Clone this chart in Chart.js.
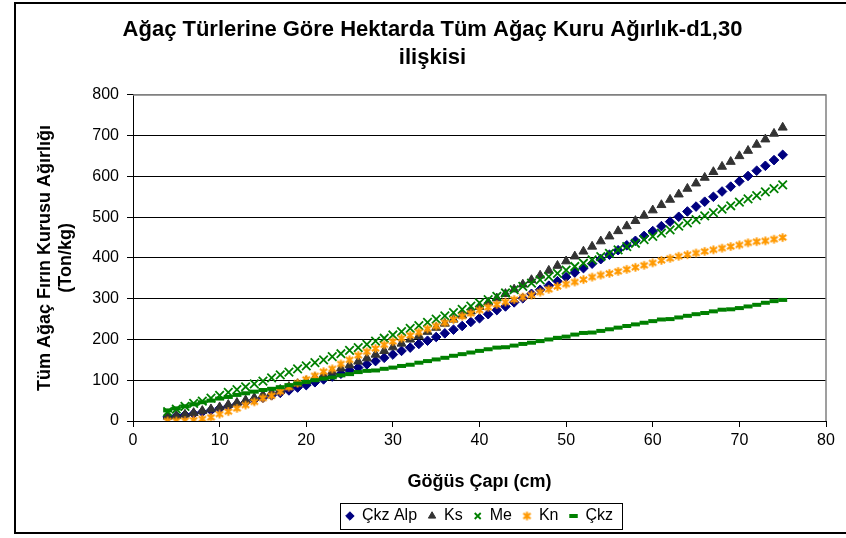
<!DOCTYPE html>
<html><head><meta charset="utf-8">
<script src="https://cdn.jsdelivr.net/npm/chart.js@4"></script>
<style>html,body{margin:0;padding:0;background:#fff;}canvas{display:block;}</style>
</head><body>
<canvas id="c" width="846" height="538"></canvas>
<script>
// Göğüs çapı (cm)
const dbh = [4,5,6,7,8,9,10,11,12,13,14,15,16,17,18,19,20,21,22,23,24,25,26,27,28,29,30,31,32,33,34,35,36,37,38,39,40,41,42,43,44,45,46,47,48,49,50,51,52,53,54,55,56,57,58,59,60,61,62,63,64,65,66,67,68,69,70,71,72,73,74,75];
const ckzAlp = [10,12,15,18,22,26,31,36,41,46,52,57,63,69,75,82,88,95,102,109,116,124,131,139,147,155,163,172,180,189,197,206,215,224,233,243,252,262,272,281,291,301,312,322,332,343,353,364,375,386,397,408,419,431,442,454,466,478,489,501,514,526,538,550,563,575,588,601,614,626,640,653];
const ks = [11,13,16,20,25,29,34,40,45,51,57,64,70,77,84,91,98,106,113,121,129,137,146,154,163,172,181,190,200,209,219,229,239,249,259,269,280,291,301,312,323,335,346,357,369,381,392,404,416,428,441,453,466,478,491,504,517,530,543,556,570,583,597,611,624,636,650,663,678,691,705,720];
const me = [23,29,36,43,49,56,63,70,77,84,91,98,106,113,120,128,135,143,150,158,165,173,180,188,196,203,211,219,227,234,242,250,258,266,274,282,290,298,306,314,322,330,338,346,354,362,370,379,387,395,403,411,420,428,436,445,453,461,469,478,486,494,503,511,520,528,537,545,553,562,570,579];
const kn = [0,0,1,2,5,9,17,23,31,39,47,56,62,72,83,93,102,111,121,128,140,150,161,170,178,187,195,203,210,218,226,233,241,249,257,264,272,279,286,292,298,304,309,316,323,330,336,341,347,353,358,362,367,372,377,382,388,394,399,404,408,412,416,420,424,428,432,437,440,442,446,450];
const ckz = [26,31,36,41,46,50,55,59,64,68,72,76,79,83,88,92,96,100,104,107,112,115,120,123,124,128,131,135,138,143,147,151,155,160,164,168,172,176,180,181,185,189,192,196,200,204,207,212,216,217,221,225,229,233,237,241,245,249,250,254,258,262,265,269,273,274,277,281,285,290,294,297];

const seriesNames = ['Çkz Alp','Ks','Me','Kn','Çkz'];
const titleLines = ['Ağaç Türlerine Göre Hektarda Tüm Ağaç Kuru Ağırlık-d1,30','ilişkisi'];
const xTitle = 'Göğüs Çapı (cm)';
const yTitleLines = ['Tüm Ağaç Fırın Kurusu Ağırlığı','(Ton/kg)'];
const xMin = 0, xMax = 80, xStep = 10;
const yMin = 0, yMax = 800, yStep = 100;

const FONT = "'Liberation Sans', Arial, sans-serif";
const pts = arr => dbh.map((x,i)=>({x:x, y:arr[i]}));

// Excel-style asterisk marker (x with a vertical bar)
function makeAsterisk(size, color){
  const c = document.createElement('canvas'); c.width = size; c.height = size;
  const g = c.getContext('2d'); const m = size/2, r = size/2 - 1.2;
  g.strokeStyle = color; g.lineWidth = 2; g.lineCap = 'butt';
  g.beginPath();
  g.moveTo(m - r*0.85, m - r*0.6); g.lineTo(m + r*0.85, m + r*0.6);
  g.moveTo(m - r*0.85, m + r*0.6); g.lineTo(m + r*0.85, m - r*0.6);
  g.moveTo(m, m - r); g.lineTo(m, m + r);
  g.stroke();
  return c;
}
const asterisk = makeAsterisk(11, '#FF9900');
const asteriskSmall = makeAsterisk(9, '#FF9900');

const helper = {
  id:'helper',
  beforeDraw(chart){
    const ctx = chart.ctx; ctx.save(); ctx.fillStyle='#fff'; ctx.fillRect(0,0,chart.width,chart.height); ctx.restore();
  },
  afterLayout(chart){
    const ca = chart.chartArea;
    if (chart.legend){ chart.legend.left = ca.left; chart.legend.right = ca.right; chart.legend.width = ca.right-ca.left; }
    if (chart.titleBlock){ chart.titleBlock.left = 19; chart.titleBlock.right = 846; chart.titleBlock.width = 827; }
  },
  beforeDatasetsDraw(chart){
    const {ctx, chartArea:ca} = chart;
    ctx.save(); ctx.strokeStyle='#808080'; ctx.lineWidth=1.5;
    ctx.beginPath(); ctx.moveTo(ca.left, ca.top); ctx.lineTo(ca.right, ca.top); ctx.lineTo(ca.right, ca.bottom); ctx.stroke();
    ctx.restore();
  },
  afterDraw(chart){
    const ctx = chart.ctx;
    const hb = chart.legend.legendHitBoxes;
    if (hb && hb.length){
      let l = Infinity, r = -Infinity, cy = 0;
      hb.forEach(b=>{ l=Math.min(l,b.left); r=Math.max(r,b.left+b.width); cy=b.top+b.height/2; });
      ctx.save(); ctx.strokeStyle='#000'; ctx.lineWidth=1;
      ctx.strokeRect(Math.round(l-6)+0.5, Math.round(cy-13)+0.5, Math.round(r-l+15), 26);
      ctx.restore();
    }
    ctx.save(); ctx.strokeStyle='#000'; ctx.lineWidth=2;
    ctx.strokeRect(15, 3, 840, 530);
    ctx.restore();
  }
};

new Chart(document.getElementById('c'), {
  type:'scatter',
  data:{ datasets:[
    {label:seriesNames[0], data:pts(ckzAlp), pointStyle:'rectRot', pointRadius:4.8, backgroundColor:'#000080', borderColor:'#000080', borderWidth:1, order:5},
    {label:seriesNames[1], data:pts(ks), pointStyle:'triangle', pointRadius:5.2, backgroundColor:'#333333', borderColor:'#333333', borderWidth:1, order:4},
    {label:seriesNames[2], data:pts(me), pointStyle:'crossRot', pointRadius:6, backgroundColor:'#008000', borderColor:'#008000', borderWidth:1.8, order:3},
    {label:seriesNames[3], data:pts(kn), pointStyle:asterisk, pointRadius:5, backgroundColor:'#FF9900', borderColor:'#FF9900', borderWidth:2, order:2},
    {label:seriesNames[4], data:pts(ckz), pointStyle:'line', pointRadius:4.5, backgroundColor:'#008000', borderColor:'#008000', borderWidth:4, order:1}
  ]},
  options:{
    responsive:false, animation:false, devicePixelRatio:1,
    layout:{padding:{left:14,right:20,top:4,bottom:4}},
    plugins:{
      tooltip:{enabled:false},
      title:{display:true, text:titleLines, color:'#000', font:{family:FONT,size:22,weight:'bold',lineHeight:1.27}, padding:{top:12,bottom:23}},
      legend:{position:'bottom', labels:{usePointStyle:true, boxWidth:8, boxHeight:6, padding:11, color:'#000', font:{family:FONT,size:16},
        sort:(a,b)=>a.datasetIndex-b.datasetIndex}}
    },
    scales:{
      x:{type:'linear', min:xMin, max:xMax,
        ticks:{stepSize:xStep, color:'#000', font:{family:FONT,size:16}, padding:4, maxRotation:0},
        grid:{display:true, drawOnChartArea:false, drawTicks:true, tickLength:6, tickColor:'#000'},
        border:{color:'#000', width:1},
        title:{display:true, text:xTitle, color:'#000', font:{family:FONT,size:18,weight:'bold',lineHeight:1.2}, padding:{top:0,bottom:4}},
        afterFit(s){ s.height = 76; }
      },
      y:{type:'linear', min:yMin, max:yMax,
        ticks:{stepSize:yStep, color:'#000', font:{family:FONT,size:16}, padding:8},
        grid:{color:ctx=> (ctx.tick && ctx.tick.value===yMax) ? '#808080' : '#000', lineWidth:1, drawTicks:true, tickLength:6, tickColor:'#000'},
        border:{color:'#000', width:1},
        title:{display:true, text:yTitleLines, color:'#000', font:{family:FONT,size:18,weight:'bold',lineHeight:1.2}, padding:{top:20,bottom:0}},
        afterFit(s){ s.width = 119; }
      }
    }
  },
  plugins:[helper]
});
</script>
</body></html>
